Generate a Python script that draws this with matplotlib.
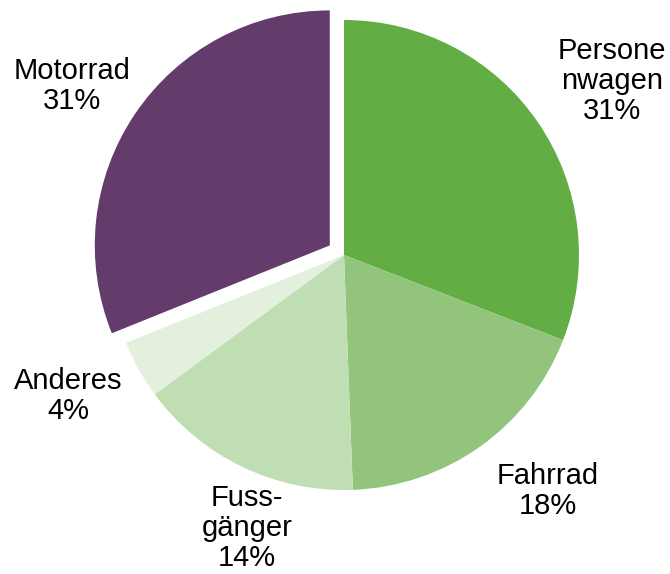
import matplotlib
matplotlib.use("Agg")
import matplotlib.pyplot as plt

# Daten (Anteile wie im Bild gemessen, Beschriftung wie angegeben)
labels = ["Persone\nnwagen", "Fahrrad", "Fuss-\ngänger", "Anderes", "Motorrad"]
values = [30.9, 18.5, 15.5, 4.0, 31.1]
pct_labels = ["31%", "18%", "14%", "4%", "31%"]
colors = ["#62ae44", "#92c47c", "#c0deb3", "#e4f0de", "#633c6b"]
explode = [0, 0, 0, 0, 0.073]

# label centers in pixel coords
label_pos = [(612, 81), (548, 491), (247, 528), (68, 396), (72, 86)]

W, H = 670, 574
cx, cy, r = 344, 255, 235

fig = plt.figure(figsize=(W / 100, H / 100), dpi=100)
ax = fig.add_axes([(cx - r) / W, (H - cy - r) / H, 2 * r / W, 2 * r / H])

ax.pie(values, colors=colors, explode=explode, startangle=90,
       counterclock=False, radius=1,
       wedgeprops=dict(linewidth=0))
ax.set_xlim(-1, 1)
ax.set_ylim(-1, 1)
ax.set_aspect("equal")
ax.axis("off")

for lab, p, (px, py) in zip(labels, pct_labels, label_pos):
    fig.text(px / W, 1 - py / H, f"{lab}\n{p}", ha="center", va="center",
             fontsize=21, family="Liberation Sans", linespacing=1.1)

fig.savefig("out.png", dpi=100)
